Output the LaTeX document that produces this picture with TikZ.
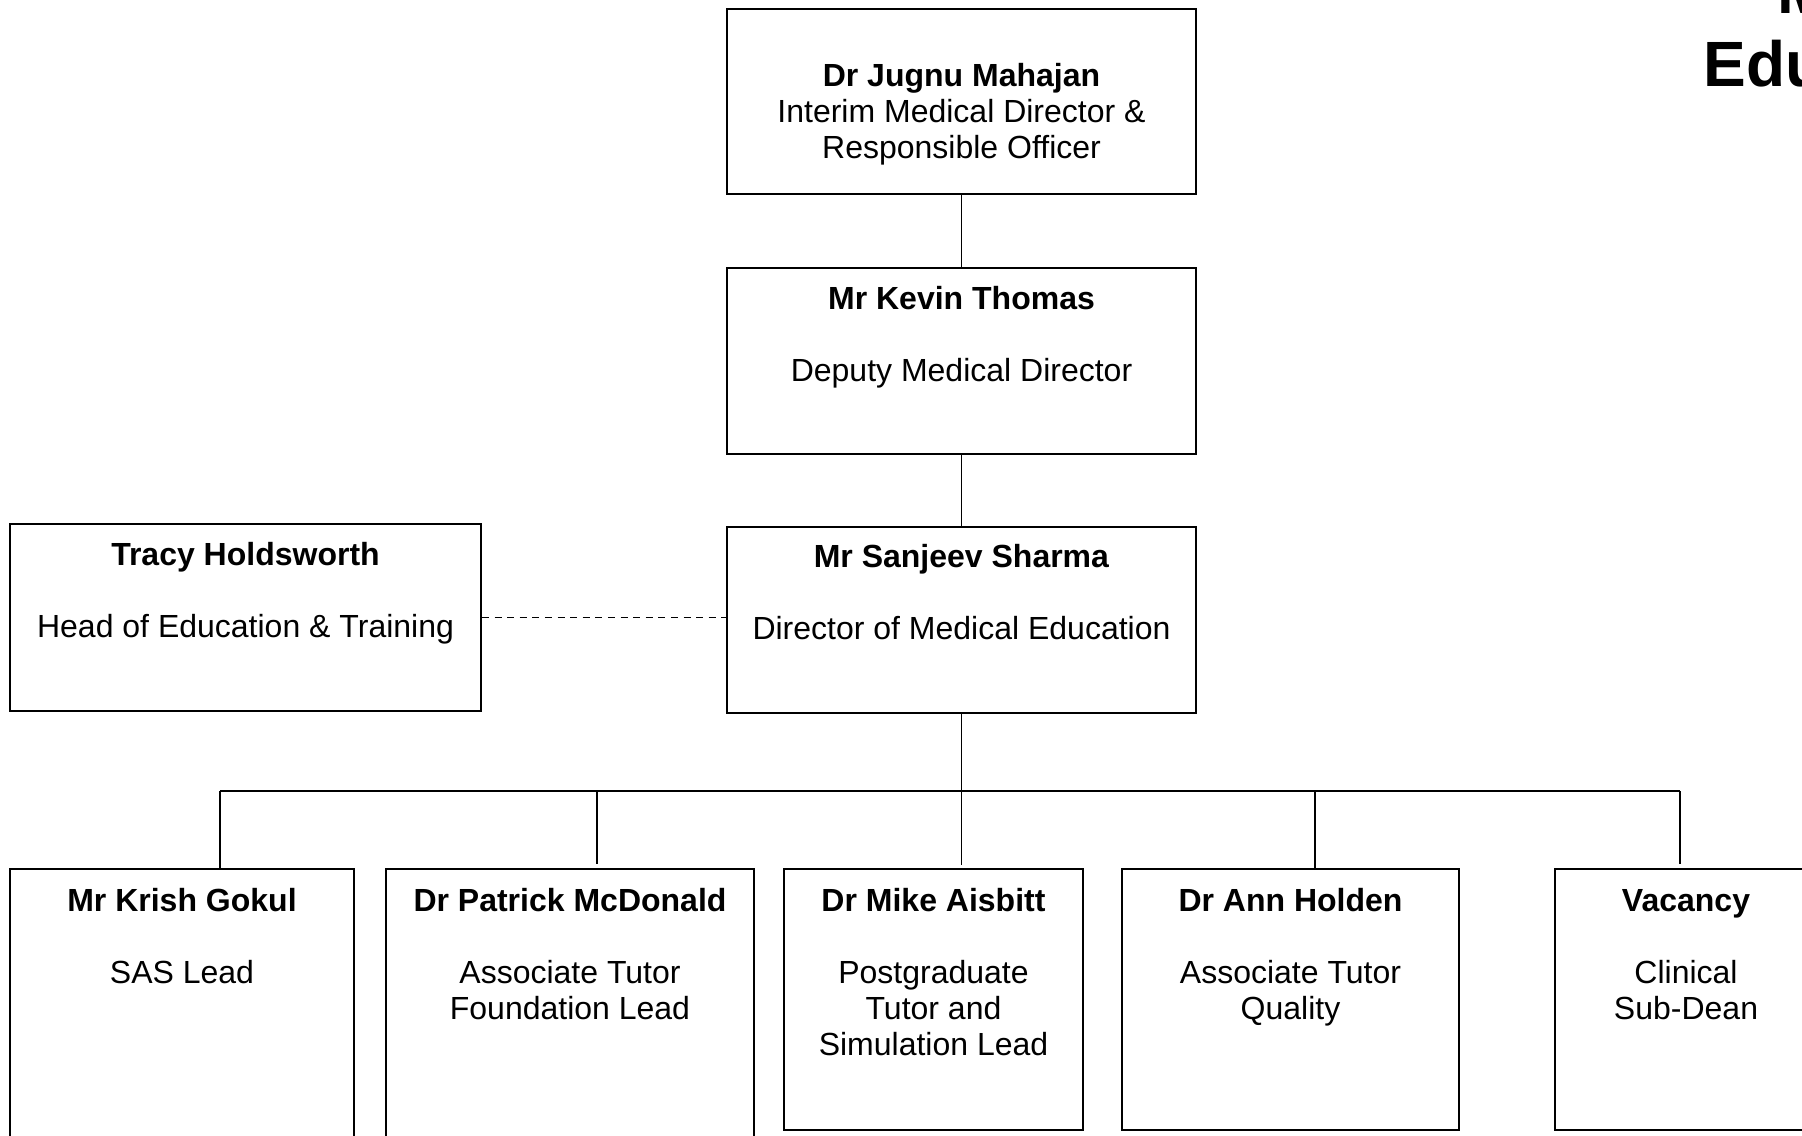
\documentclass[tikz,border=0pt]{standalone}
\usepackage{fontspec}
\setmainfont{Liberation Sans}
\begin{document}
\begin{tikzpicture}[x=0.5pt,y=-0.5pt]
\tikzset{
  box/.style={draw, rectangle, line width=0.9pt, inner sep=0pt},
  txt/.style={align=center, inner sep=0pt, anchor=base, font=\fontsize{16}{18}\selectfont},
  link/.style={line width=0.9pt},
  dotlink/.style={line width=0.9pt, dash pattern=on 3.5pt off 2.8pt},
  titletxt/.style={inner sep=0pt, anchor=base west, font=\fontsize{32}{36}\selectfont\bfseries}
}
\useasboundingbox (0,0) rectangle (1802,1135);
\clip (0,0) rectangle (1802,1135);
\fill[white] (0,0) rectangle (1802,1135);

% title (cut off at the page edge, as in the reference)
\node[titletxt] (title1) at (1777,13) {Medical};
\node[titletxt] (title2) at (1703,86) {Education};

% boxes
\node[box, minimum width=234.5pt, minimum height=92.5pt] (jm) at (961.5,101.5) {};
\node[box, minimum width=234.5pt, minimum height=93pt] (kt) at (961.5,361) {};
\node[box, minimum width=234.5pt, minimum height=93pt] (ss) at (961.5,620) {};
\node[box, minimum width=235.5pt, minimum height=93.5pt] (th) at (245.5,617.5) {};
\node[box, minimum width=172pt, minimum height=145.5pt] (kg) at (182,1014.5) {};
\node[box, minimum width=184pt, minimum height=145.5pt] (pm) at (570,1014.5) {};
\node[box, minimum width=149.5pt, minimum height=130.5pt] (ma) at (933.5,999.5) {};
\node[box, minimum width=168.5pt, minimum height=130.5pt] (ah) at (1290.5,999.5) {};
\node[box, minimum width=137.5pt, minimum height=130.5pt] (vc) at (1692.5,999.5) {};

% texts (anchor = baseline of the last line)
\node[txt] (tjm) at (961.5,158) {\textbf{Dr Jugnu Mahajan}\\Interim Medical Director \&\\Responsible Officer};
\node[txt] (tkt) at (961.5,381) {\textbf{Mr Kevin Thomas}\\[18pt]Deputy Medical Director};
\node[txt] (tss) at (961.5,639) {\textbf{Mr Sanjeev Sharma}\\[18pt]Director of Medical Education};
\node[txt] (tth) at (245.5,637) {\textbf{Tracy Holdsworth}\\[18pt]Head of Education \& Training};
\node[txt] (tkg) at (182,983) {\textbf{Mr Krish Gokul}\\[18pt]SAS Lead};
\node[txt] (tpm) at (570,1019) {\textbf{Dr Patrick McDonald}\\[18pt]Associate Tutor\\Foundation Lead};
\node[txt] (tma) at (933.5,1055) {\textbf{Dr Mike Aisbitt}\\[18pt]Postgraduate\\Tutor and\\Simulation Lead};
\node[txt] (tah) at (1290.5,1019) {\textbf{Dr Ann Holden}\\[18pt]Associate Tutor\\Quality};
\node[txt] (tvc) at (1686,1019) {\textbf{Vacancy}\\[18pt]Clinical\\Sub-Dean};

% connectors
\draw[link] (jm.south) -- (kt.north);
\draw[link] (kt.south) -- (ss.north);
\draw[dotlink] (th.east) -- (ss.west |- th.east);

\coordinate (busL) at (220,791);
\coordinate (busR) at (1680,791);
\coordinate (d2) at (597,791);
\coordinate (d4) at (1315,791);
\draw[link] (ss.south) -- (ss.south |- busL);
\draw[link] (busL) -- (busR);
\draw[link] (busL) -- (busL |- kg.north);
\draw[link, shorten >=2pt] (d2) -- (d2 |- pm.north);
\draw[link, shorten >=1.5pt] (ss.south |- busL) -- (ss.south |- ma.north);
\draw[link] (d4) -- (d4 |- ah.north);
\draw[link, shorten >=2pt] (busR) -- (busR |- vc.north);
\end{tikzpicture}
\end{document}
